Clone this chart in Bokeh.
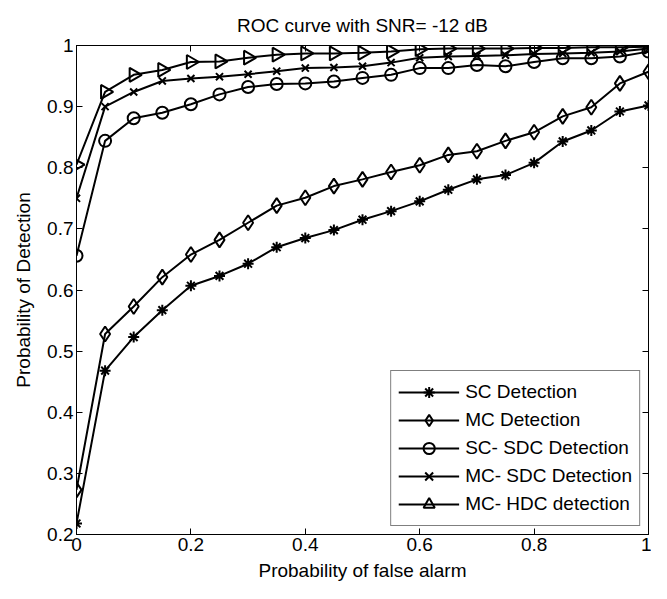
import numpy as np
from bokeh.plotting import figure
from bokeh.models import Range1d, LinearAxis, FixedTicker
from bokeh.embed import file_html
from bokeh.resources import INLINE

# ---- data ----
pfa = [0.00, 0.05, 0.10, 0.15, 0.20, 0.25, 0.30, 0.35, 0.40, 0.45, 0.50,
       0.55, 0.60, 0.65, 0.70, 0.75, 0.80, 0.85, 0.90, 0.95, 1.00]

sc_detection = [0.218, 0.468, 0.523, 0.567, 0.607, 0.623, 0.643, 0.670, 0.685, 0.698, 0.715,
                0.729, 0.745, 0.764, 0.781, 0.788, 0.808, 0.843, 0.861, 0.892, 0.902]
mc_detection = [0.273, 0.528, 0.573, 0.621, 0.658, 0.682, 0.710, 0.738, 0.751, 0.770, 0.781,
                0.793, 0.804, 0.821, 0.827, 0.844, 0.858, 0.884, 0.899, 0.938, 0.957]
sc_sdc_detection = [0.656, 0.844, 0.881, 0.890, 0.904, 0.920, 0.932, 0.937, 0.938, 0.941, 0.947,
                    0.952, 0.963, 0.963, 0.968, 0.966, 0.973, 0.979, 0.979, 0.982, 0.990]
mc_sdc_detection = [0.750, 0.900, 0.924, 0.942, 0.946, 0.949, 0.953, 0.958, 0.963, 0.964, 0.966,
                    0.972, 0.980, 0.982, 0.983, 0.984, 0.986, 0.987, 0.988, 0.990, 0.995]
mc_hdc_detection = [0.805, 0.924, 0.952, 0.960, 0.973, 0.974, 0.980, 0.985, 0.987, 0.987, 0.988,
                    0.990, 0.994, 0.995, 0.995, 0.995, 0.996, 0.996, 0.997, 0.997, 0.998]

x_ticks = [0.0, 0.2, 0.4, 0.6, 0.8, 1.0]
x_tick_labels = ["0", "0.2", "0.4", "0.6", "0.8", "1"]
y_ticks = [0.2, 0.3, 0.4, 0.5, 0.6, 0.7, 0.8, 0.9, 1.0]
y_tick_labels = ["0.2", "0.3", "0.4", "0.5", "0.6", "0.7", "0.8", "0.9", "1"]

title_text = "ROC curve with SNR= -12 dB"
x_label = "Probability of false alarm"
y_label = "Probability of Detection"

FONT = "Liberation Sans"
FS = "19px"

p = figure(width=651, height=583, x_range=Range1d(0, 1), y_range=Range1d(0.2, 1),
           output_backend="svg", toolbar_location=None, title=title_text,
           min_border_left=76, min_border_right=3, min_border_top=45, min_border_bottom=48)
p.title.text_font = FONT
p.title.text_font_size = FS
p.title.text_font_style = "normal"
p.title.align = "center"
p.title.text_color = "black"
p.title.standoff = 20
p.grid.visible = False
p.outline_line_color = "black"
p.outline_line_width = 1
p.background_fill_color = "white"
p.border_fill_color = "white"


def style_axis(ax, ticks, labels, show_labels=True):
    ax.ticker = FixedTicker(ticks=ticks)
    if show_labels:
        ax.major_label_overrides = {t: l for t, l in zip(ticks, labels)}
    else:
        ax.major_label_overrides = {t: "" for t in ticks}
    ax.major_tick_in = 6
    ax.major_tick_out = 0
    ax.minor_tick_line_color = None
    ax.axis_line_color = "black"
    ax.major_tick_line_color = "black"
    ax.major_label_text_font = FONT
    ax.major_label_text_font_size = FS if show_labels else "1px"
    ax.major_label_text_color = "black"
    ax.major_label_standoff = 3 if show_labels else 0
    ax.axis_label_text_font = FONT
    ax.axis_label_text_font_size = FS
    ax.axis_label_text_font_style = "normal"
    ax.axis_label_text_color = "black"


style_axis(p.xaxis[0], x_ticks, x_tick_labels)
style_axis(p.yaxis[0], y_ticks, y_tick_labels)
p.xaxis[0].axis_label = x_label
p.yaxis[0].axis_label = y_label
p.xaxis[0].axis_label_standoff = 6
p.yaxis[0].axis_label_standoff = 10

top_ax = LinearAxis()
style_axis(top_ax, x_ticks, x_tick_labels, show_labels=False)
p.add_layout(top_ax, "above")
right_ax = LinearAxis()
style_axis(right_ax, y_ticks, y_tick_labels, show_labels=False)
p.add_layout(right_ax, "right")

series = [
    ("SC Detection", sc_detection, "asterisk", 11, 0.0),
    ("MC Detection", mc_detection, "diamond", 15, 0.0),
    ("SC- SDC Detection", sc_sdc_detection, "circle", 12, 0.0),
    ("MC- SDC Detection", mc_sdc_detection, "x", 10, 0.0),
    ("MC- HDC detection", mc_hdc_detection, "triangle", 14, -np.pi / 2),
]

for name, ys, mk, sz, ang in series:
    p.line(pfa, ys, line_color="black", line_width=2, legend_label=name)
    p.scatter(pfa, ys, marker=mk, size=sz, angle=ang, line_color="black", line_width=2,
              fill_color=None, legend_label=name)

lg = p.legend[0]
lg.location = "bottom_right"
lg.margin = 8
lg.padding = 7
lg.spacing = 0
lg.glyph_width = 61
lg.glyph_height = 28
lg.label_standoff = 6
lg.label_text_font = FONT
lg.label_text_font_size = FS
lg.label_text_color = "black"
lg.border_line_color = "black"
lg.border_line_width = 1
lg.background_fill_color = "white"
lg.background_fill_alpha = 1.0

open("out.html", "w").write(file_html(p, INLINE))
